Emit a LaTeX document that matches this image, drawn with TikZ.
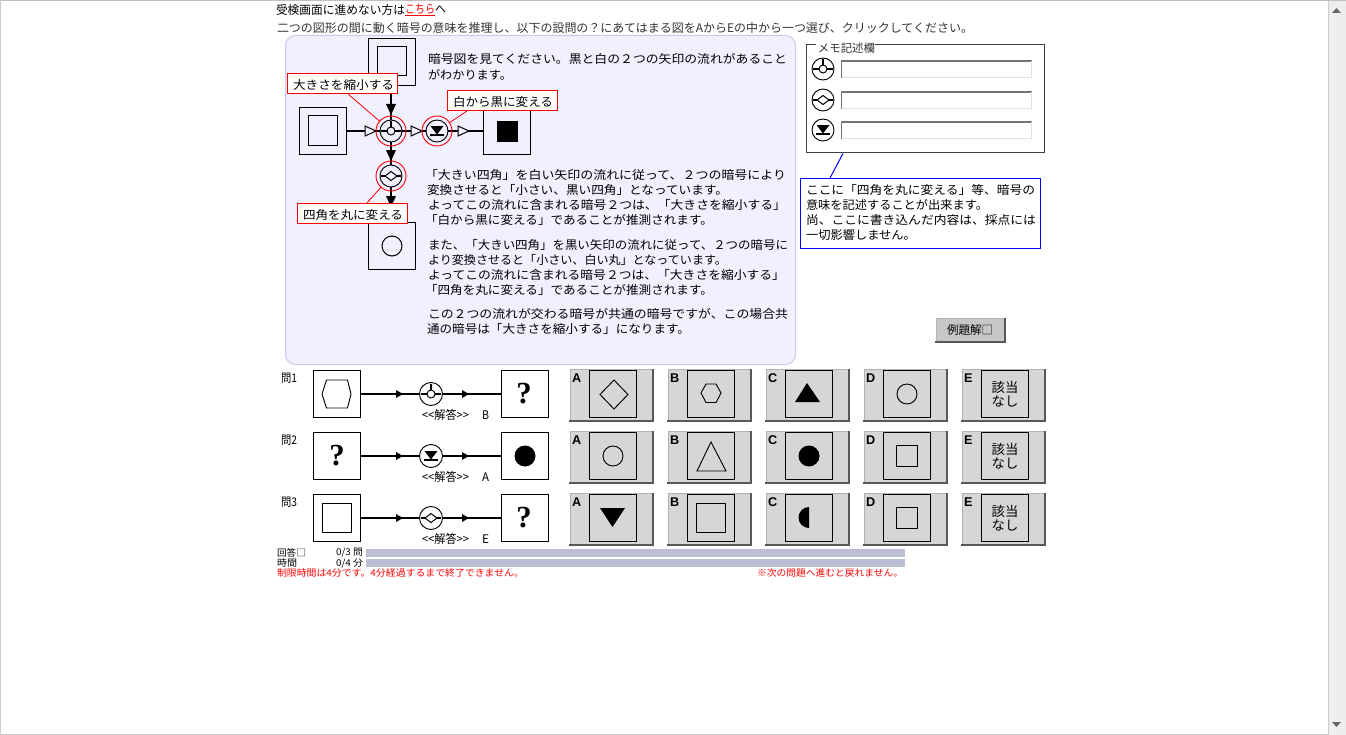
\documentclass[tikz,border=0pt]{standalone}
\usepackage{fontspec}
\usepackage{graphicx}
\setmainfont{Noto Sans CJK JP}
\newfontfamily\qfont{Liberation Serif}
\newfontfamily\lfont{Liberation Sans}
\newdimen\pxl \pxl=0.75pt
\definecolor{panelc}{HTML}{F0F0FF}
\definecolor{panelb}{HTML}{C8C8F0}
\definecolor{btnc}{HTML}{D6D6D6}
\definecolor{barc}{HTML}{BCBED4}
\definecolor{sbar}{HTML}{EEEEEE}
\tikzset{
  every node/.style={inner sep=0pt,outer sep=0pt},
  bigbox/.style={draw=black,line width=0.75pt,rectangle,minimum size=35.5pt,fill=white},
  panelbox/.style={bigbox,fill=panelc},
  btnbox/.style={bigbox,fill=btnc},
  flow/.style={draw=black,line width=1.6pt},
  thin shape/.style={draw=black,line width=0.7pt},
  sym/.style={circle,draw=black,line width=0.7pt,minimum size=16.5pt},
  ring/.style={circle,draw=red,line width=0.7pt,minimum size=22.5pt},
  redlab/.style={draw=red,line width=0.8pt,fill=white,rectangle,minimum height=15pt,minimum width=83pt},
  redlead/.style={draw=red,line width=0.6pt},
  bluelead/.style={draw=blue,line width=0.75pt},
  jtext/.style={anchor=west,yshift=-0.5pt,font=\fontsize{8.9pt}{10pt}\selectfont},
  smalltext/.style={anchor=west,font=\fontsize{7pt}{8pt}\selectfont},
}
% name, x, y, width in px, text
\newcommand\jt[5]{\node[jtext] (#1) at (#2,#3) {\resizebox{#4\pxl}{\height}{#5}};}
\newcommand\jts[5]{\node[smalltext] (#1) at (#2,#3) {\resizebox{#4\pxl}{\height}{#5}};}
\newcommand\glyphA[2]{\begin{scope}[shift={(#1)},scale=#2]
  \draw[line width=0.75pt] (0,0) circle (4);
  \draw[line width=1.5pt] (-10,0)--(-4,0) (4,0)--(10,0) (0,-10)--(0,-4);
\end{scope}}
\newcommand\glyphB[2]{\begin{scope}[shift={(#1)},scale=#2]
  \draw[line width=0.75pt] (-6,0)--(0,-4.5)--(6,0)--(0,4.5)--cycle;
  \draw[line width=1.5pt] (-10,0)--(-6,0) (6,0)--(10,0);
\end{scope}}
\newcommand\glyphC[2]{\begin{scope}[shift={(#1)},scale=#2]
  \fill[black] (-6.5,-5)--(6.5,-5)--(0,3.5)--cycle;
  \draw[line width=1.5pt] (-7,4.2)--(7,4.2);
\end{scope}}
\newcommand\wtri[2]{\draw[line width=0.75pt,fill=panelc] (#1,#2-5)--(#1+11,#2)--(#1,#2+5)--cycle;}
\newcommand\dtri[2]{\fill[black] (#1-5,#2)--(#1+5,#2)--(#1,#2+11)--cycle;}
\newcommand\rtri[2]{\fill[black] (#1,#2-4)--(#1+7,#2)--(#1,#2+4)--cycle;}
\newcommand\btn[3]{%
  \fill[btnc] (#1,#2) rectangle (#1+83,#2+52);
  \draw[line width=0.75pt,color=black!30] (#1,#2+52)--(#1,#2)--(#1+83,#2);
  \draw[line width=1.2pt,color=black!65] (#1-1,#2+52)--(#1+83,#2+52)--(#1+83,#2);
  \node[btnbox] (#3) at (#1+43,#2+25) {};
  }
\begin{document}
\begin{tikzpicture}[x=0.75pt,y=-0.75pt]
\useasboundingbox (0,0) rectangle (1346,735);
% window
\fill[white] (0,0) rectangle (1346,735);
\fill[sbar] (1329,0) rectangle (1346,735);
\draw[black!20,line width=0.75pt] (1328,0)--(1328,735);
\draw[black!25,line width=1.5pt] (0,0.5)--(1346,0.5);
\draw[black!20,line width=0.75pt] (0.5,0)--(0.5,735);
\draw[black!20,line width=0.75pt] (0,734)--(1328,734);
\fill[black!60] (1332,13)--(1341,13)--(1336.5,8)--cycle;
\fill[black!60] (1332,722)--(1341,722)--(1336.5,727)--cycle;
% header
\jt{h1}{276}{9}{129}{受検画面に進めない方は}
\node[jtext,text=red] (h2) at (405,9) {\resizebox{30\pxl}{\height}{こちら}};
\jt{h3}{435}{9}{11}{へ}
\draw[red,line width=0.75pt] (405,16)--(435,16);
\jt{h4}{277}{27}{696}{\textcolor{black!80}{二つの図形の間に動く暗号の意味を推理し、以下の設問の？にあてはまる図をAからEの中から一つ選び、クリックしてください。}}
% panel
\draw[panelb,fill=panelc,line width=0.75pt,rounded corners=7.5pt] (285.5,35.5) rectangle (795.5,364.5);
% example diagram
\node[panelbox] (bT) at (392,62) {};
\draw[line width=0.75pt] (377,47) rectangle (406,76);
\node[panelbox] (bL) at (323,131) {};
\draw[line width=0.75pt] (308,116) rectangle (337,145);
\node[panelbox] (bR) at (507,131) {};
\fill[black] (497,121) rectangle (518,142);
\node[panelbox] (bB) at (392,246) {};
\draw[line width=0.75pt] (392,246) circle (10);
\node[sym,fill=panelc] (s1) at (391,131) {};
\node[sym,fill=panelc] (s2) at (437,131) {};
\node[sym,fill=panelc] (s3) at (391,176) {};
\draw[flow] (bL)--(s1);
\draw[flow] (s1)--(s2);
\draw[flow] (s2)--(bR);
\draw[flow] (391,86)--(s1);
\draw[flow] (s1)--(s3);
\draw[flow] (s3)--(391,222);
\wtri{365}{131}\wtri{411}{131}\wtri{458}{131}
\dtri{391}{104}\dtri{391}{150}\dtri{391}{196}
\glyphA{391,131}{1}\glyphC{437,131}{1}\glyphB{391,176}{1}
\node[ring] (r1) at (391,131) {};
\node[ring] (r2) at (437,131) {};
\node[ring] (r3) at (391,176) {};
\coordinate (lead1) at (348,94);
\coordinate (lead2) at (467,111);
\coordinate (lead3) at (367,203);
\draw[redlead] (lead1)--(r1);
\draw[redlead] (lead2)--(r2);
\draw[redlead] (lead3)--(r3);
\node[redlab] (lab1) at (342.5,83.5) {};
\node[redlab] (lab2) at (502.5,100.5) {};
\node[redlab] (lab3) at (352.5,213.5) {};
\jt{lt1}{293}{84}{101}{大きさを縮小する}
\jt{lt2}{453}{101}{100}{白から黒に変える}
\jt{lt3}{303}{214}{100}{四角を丸に変える}
% panel text
\jt{p1}{428}{58}{359}{暗号図を見てください。黒と白の２つの矢印の流れがあること}
\jt{p2}{428}{74}{84}{がわかります。}
\jt{p3}{425}{174}{361}{「大きい四角」を白い矢印の流れに従って、２つの暗号により}
\jt{p4}{427}{189}{301}{変換させると「小さい、黒い四角」となっています。}
\jt{p5}{428}{204}{358}{よってこの流れに含まれる暗号２つは、「大きさを縮小する」}
\jt{p6}{425}{219}{288}{「白から黒に変える」であることが推測されます。}
\jt{p7}{428}{244}{360}{また、「大きい四角」を黒い矢印の流れに従って、２つの暗号に}
\jt{p8}{428}{259}{299}{より変換させると「小さい、白い丸」となっています。}
\jt{p9}{428}{274}{357}{よってこの流れに含まれる暗号２つは、「大きさを縮小する」}
\jt{p10}{425}{289}{288}{「四角を丸に変える」であることが推測されます。}
\jt{p11}{428}{313}{360}{この２つの流れが交わる暗号が共通の暗号ですが、この場合共}
\jt{p12}{427}{328}{263}{通の暗号は「大きさを縮小する」になります。}
% memo
\node[draw=black!75,line width=0.75pt,rectangle,minimum width=179pt,minimum height=81.5pt] (memo) at (925.5,98.5) {};
\node[anchor=west,fill=white,minimum height=9pt,font=\fontsize{8.5pt}{10pt}\selectfont,text=black!80] (memot) at (816,48) {\resizebox{59\pxl}{\height}{\,メモ記述欄}};
\foreach \n/\y in {a/69,b/100,c/130}{
  \node[sym,fill=white] (m\n) at (823,\y) {};
  \fill[white] (841,\y-8) rectangle (1032,\y+9);
  \draw[black!55,line width=1.2pt] (841.5,\y+9)--(841.5,\y-8)--(1032,\y-8);
  \draw[black!12,line width=1.2pt] (841.5,\y+8.5)--(1031.5,\y+8.5)--(1031.5,\y-8);
}
\glyphA{823,69}{1}\glyphB{823,100}{1}\glyphC{823,130}{1}
\node[draw=blue,line width=0.75pt,rectangle,minimum width=180.5pt,minimum height=52.5pt] (note) at (920.5,213) {};
\draw[bluelead] (843,153.5)--(830,178);
\jt{n1}{806}{189}{229}{ここに「四角を丸に変える」等、暗号の}
\jt{n2}{806}{204}{182}{意味を記述することが出来ます。}
\jt{n3}{806}{219}{230}{尚、ここに書き込んだ内容は、採点には}
\jt{n4}{806}{234}{110}{一切影響しません。}
% example button
\fill[black!22] (936,318) rectangle (1005,342);
\draw[line width=0.75pt,color=black!30] (936,342)--(936,318)--(1005,318);
\draw[line width=1.2pt,color=black!65] (935,342)--(1005,342)--(1005,318);
\jt{ex}{947}{329}{46}{例題解□}
% rows
\jt{q1}{281}{378}{16}{問1}
\jt{q2}{281}{440}{16}{問2}
\jt{q3}{281}{502}{16}{問3}
\foreach \r/\y in {1/394,2/456,3/518}{
  \node[bigbox] (ql\r) at (337,\y) {};
  \node[bigbox] (qr\r) at (525,\y) {};
  \node[sym,fill=white,minimum size=17.25pt] (qs\r) at (431,\y) {};
  \draw[flow] (ql\r)--(qs\r);
  \draw[flow] (qs\r)--(qr\r);
  \rtri{396}{\y}\rtri{462}{\y}
}
\glyphA{431,394}{1}\glyphC{431,456}{1}\glyphB{431,518}{1}
\jt{ans1}{422}{414}{47}{<{}<解答>{}>}
\jt{ans2}{422}{476}{47}{<{}<解答>{}>}
\jt{ans3}{422}{538}{47}{<{}<解答>{}>}
\jt{al1}{482}{414}{7}{B}
\jt{al2}{482}{476}{7}{A}
\jt{al3}{482}{538}{7}{E}
\draw[thin shape] (322,394)--(326.5,380)--(347.5,380)--(351,394)--(347.5,408)--(326.5,408)--cycle;
\draw[thin shape] (322,503) rectangle (351,532);
\fill[black] (525,456) circle (10.5);
\node[font=\qfont\bfseries\fontsize{23pt}{23pt}\selectfont] (qm1) at (524,394) {?};
\node[font=\qfont\bfseries\fontsize{23pt}{23pt}\selectfont] (qm2) at (337,456) {?};
\node[font=\qfont\bfseries\fontsize{23pt}{23pt}\selectfont] (qm3) at (524,518) {?};
% buttons
\foreach \r/\y in {1/369,2/431,3/493}{
  \foreach \c/\x/\l in {1/570/A,2/668/B,3/766/C,4/864/D,5/962/E}{
    \btn{\x}{\y}{bt\r\c}
    \node[anchor=west,font=\lfont\bfseries\fontsize{9.5pt}{10pt}\selectfont] (bl\r\c) at (\x+2,\y+9.5) {\l};
  }
  \node[align=center,font=\fontsize{10pt}{10.8pt}\selectfont] (et\r) at (1005,\y+25.5) {該当\\なし};
}
% row 1 shapes
\draw[thin shape] (614,380)--(628,394.5)--(614,409)--(600,394.5)--cycle;
\draw[thin shape] (701,393)--(706,384)--(716,384)--(721,393)--(716,402.5)--(706,402.5)--cycle;
\fill[black] (795,402)--(820,402)--(807,383)--cycle;
\draw[thin shape] (907,394) circle (10);
% row 2 shapes
\draw[thin shape] (613,456) circle (10);
\draw[thin shape] (711,442)--(726,471)--(697,471)--cycle;
\fill[black] (809,456) circle (10.5);
\draw[thin shape] (896,445) rectangle (917,466);
% row 3 shapes
\fill[black] (600,508)--(625,508)--(612.5,527)--cycle;
\draw[thin shape] (696,503) rectangle (725,532);
\fill[black] (809,528) arc[start angle=90,end angle=270,radius=10.5] --cycle;
\draw[thin shape] (896,507) rectangle (917,528);
% status
\fill[barc] (366,549) rectangle (905,557);
\fill[barc] (366,559) rectangle (905,567);
\jts{st1}{277}{552.5}{29}{回答□}
\jts{st2}{277}{563}{20}{時間}
\jts{st3}{336}{553}{27}{0/3 問}
\jts{st4}{336}{563}{27}{0/4 分}
\node[smalltext,text=red] (st5) at (277,573) {\resizebox{247\pxl}{\height}{制限時間は4分です。4分経過するまで終了できません。}};
\node[smalltext,text=red] (st6) at (757,573) {\resizebox{146\pxl}{\height}{※次の問題へ進むと戻れません。}};
\end{tikzpicture}
\end{document}
